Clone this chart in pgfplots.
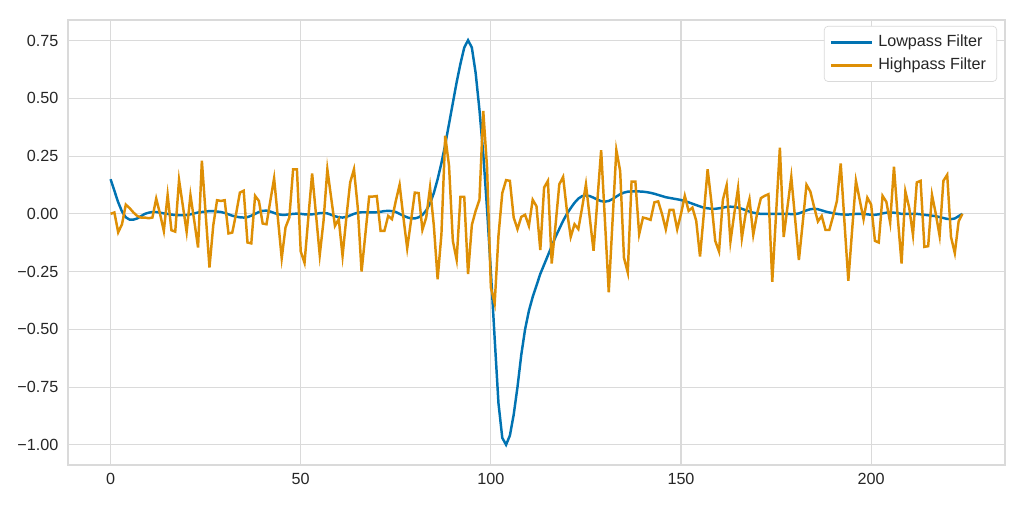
\documentclass[border=0pt]{standalone}
\usepackage{fontspec}
\setmainfont{Liberation Sans}
\usepackage{pgfplots}
\usepackage{pgfplotstable}
\pgfplotsset{compat=1.18}

\definecolor{lowc}{HTML}{0173B2}
\definecolor{highc}{HTML}{DE8F05}
\definecolor{gridc}{HTML}{DADADA}
\definecolor{textc}{HTML}{262626}

% x, lowpass, highpass
\pgfplotstableread{
x lp hp
0 0.15 0.0
1 0.10 0.006
2 0.05 -0.08
3 0.01 -0.045
4 -0.015 0.04
5 -0.025 0.025
6 -0.025 0.006
7 -0.02 -0.009
8 -0.01 -0.016
9 0.0 -0.016
10 0.005 -0.019
11 0.008 -0.016
12 0.008 0.066
13 0.005 0.0
14 0.002 -0.074
15 0.0 0.082
16 -0.003 -0.071
17 -0.005 -0.077
18 -0.006 0.147
19 -0.006 0.035
20 -0.005 -0.078
21 -0.002 0.081
22 0.002 -0.03
23 0.006 -0.146
24 0.008 0.23
25 0.01 0.0
26 0.012 -0.232
27 0.012 -0.05
28 0.01 0.059
29 0.008 0.056
30 0.004 0.059
31 -0.002 -0.085
32 -0.008 -0.081
33 -0.012 0.0
34 -0.015 0.092
35 -0.016 0.1
36 -0.014 -0.124
37 -0.008 -0.128
38 0.0 0.078
39 0.008 0.056
40 0.013 -0.042
41 0.014 -0.045
42 0.01 0.056
43 0.004 0.154
44 -0.002 -0.02
45 -0.004 -0.192
46 -0.004 -0.059
47 -0.002 -0.016
48 0.0 0.193
49 0.001 0.193
50 0.0 -0.163
51 -0.002 -0.212
52 -0.003 -0.016
53 -0.002 0.175
54 0.0 0.0
55 0.003 -0.178
56 0.004 -0.03
57 0.002 0.193
58 -0.004 0.07
59 -0.01 -0.052
60 -0.015 -0.023
61 -0.016 -0.182
62 -0.013 -0.016
63 -0.007 0.136
64 0.0 0.193
65 0.005 0.027
66 0.007 -0.25
67 0.007 -0.088
68 0.006 0.075
69 0.006 0.075
70 0.007 0.077
71 0.009 -0.074
72 0.012 -0.074
73 0.013 -0.009
74 0.012 -0.023
75 0.008 0.056
76 0.0 0.126
77 -0.008 -0.016
78 -0.015 -0.149
79 -0.02 -0.03
80 -0.02 0.092
81 -0.015 0.09
82 -0.005 -0.069
83 0.015 -0.016
84 0.045 0.114
85 0.09 -0.05
86 0.15 -0.283
87 0.22 -0.088
88 0.30 0.338
89 0.39 0.208
90 0.48 -0.117
91 0.57 -0.199
92 0.65 0.074
93 0.72 0.074
94 0.752 -0.261
95 0.72 -0.048
96 0.61 0.013
97 0.45 0.061
98 0.26 0.446
99 0.02 0.2
100 -0.25 -0.319
101 -0.54 -0.388
102 -0.82 -0.095
103 -0.97 0.09
104 -1.0 0.146
105 -0.96 0.143
106 -0.87 -0.016
107 -0.75 -0.066
108 -0.61 -0.013
109 -0.50 -0.004
110 -0.42 -0.052
111 -0.36 0.061
112 -0.31 0.033
113 -0.26 -0.157
114 -0.22 0.114
115 -0.18 0.143
116 -0.14 -0.215
117 -0.10 -0.05
118 -0.065 0.128
119 -0.03 0.16
120 0.0 0.013
121 0.025 -0.1
122 0.048 -0.045
123 0.066 -0.066
124 0.077 0.027
125 0.08 0.128
126 0.077 -0.016
127 0.07 -0.16
128 0.062 0.056
129 0.055 0.276
130 0.053 -0.03
131 0.056 -0.34
132 0.064 -0.03
133 0.075 0.276
134 0.085 0.186
135 0.092 -0.19
136 0.096 -0.254
137 0.097 0.14
138 0.097 0.14
139 0.097 -0.088
140 0.096 -0.016
141 0.094 -0.02
142 0.091 -0.026
143 0.087 0.05
144 0.082 0.054
145 0.077 0.0
146 0.072 -0.067
147 0.069 0.017
148 0.066 0.017
149 0.063 -0.067
150 0.06 0.0
151 0.055 0.078
152 0.05 0.013
153 0.044 0.027
154 0.038 -0.03
155 0.032 -0.185
156 0.027 0.0
157 0.024 0.193
158 0.022 0.05
159 0.022 -0.117
160 0.024 -0.163
161 0.027 0.06
162 0.03 0.124
163 0.031 -0.12
164 0.03 0.0
165 0.027 0.111
166 0.022 -0.105
167 0.016 0.0
168 0.01 0.064
169 0.005 -0.091
170 0.002 0.0
171 0.0 0.068
172 0.0 0.078
173 0.0 0.085
174 0.0 -0.294
175 0.0 0.0
176 0.0 0.287
177 0.0 -0.1
178 0.0 0.03
179 -0.001 0.16
180 -0.001 -0.02
181 0.002 -0.2
182 0.008 -0.04
183 0.015 0.126
184 0.02 0.097
185 0.022 0.03
186 0.02 -0.033
187 0.015 -0.009
188 0.01 -0.07
189 0.006 -0.07
190 0.003 -0.01
191 0.0 0.056
192 -0.002 0.218
193 -0.003 -0.04
194 -0.003 -0.29
195 -0.002 -0.07
196 0.0 0.143
197 0.0 0.06
198 0.0 -0.023
199 -0.002 0.07
200 -0.004 0.04
201 -0.004 -0.117
202 -0.002 -0.124
203 0.002 0.078
204 0.005 0.052
205 0.006 -0.038
206 0.005 0.204
207 0.003 -0.016
208 0.0 -0.215
209 0.0 0.097
210 0.0 0.027
211 0.0 -0.091
212 0.0 0.136
213 -0.002 0.143
214 -0.004 -0.143
215 -0.006 -0.14
216 -0.008 0.082
217 -0.01 0.0
218 -0.014 -0.095
219 -0.018 0.143
220 -0.022 0.169
221 -0.023 -0.1
222 -0.02 -0.17
223 -0.01 -0.033
224 0.0 0.0
}\filterdata

\begin{document}
\begin{tikzpicture}
\begin{axis}[
    scale only axis,
    width=18.74cm, height=8.9cm,
    xmin=-11.2, xmax=235.2,
    ymin=-1.0876, ymax=0.8396,
    xtick={0,50,100,150,200},
    xticklabels={0,50,100,150,200},
    ytick={-1,-0.75,-0.5,-0.25,0,0.25,0.5,0.75},
    yticklabels={−1.00,−0.75,−0.50,−0.25,0.00,0.25,0.50,0.75},
    tick style={draw=none},
    tick label style={font=\fontsize{9.2}{11}\selectfont, text=textc},
    xticklabel style={yshift=-1pt},
    yticklabel style={xshift=-2pt},
    grid=major,
    major grid style={draw=gridc, line width=0.6pt},
    axis line style={draw=gridc, line width=0.6pt},
    legend cell align=left,
    legend style={at={(0.9915,0.9865)}, anchor=north east,
        draw=gridc, rounded corners=2pt, fill=white,
        font=\fontsize{9.2}{11}\selectfont, text=textc,
        inner xsep=3pt, inner ysep=3pt, row sep=1pt,
        nodes={inner xsep=3pt}},
    legend image code/.code={\path (0cm,0cm) -- (0.82cm,0cm);
        \draw[#1, line width=1.4pt] (0.08cm,0cm) -- (0.78cm,0cm);},
]
\addplot[lowc, line width=1.4pt] table[x=x, y=lp] {\filterdata};
\addlegendentry{Lowpass Filter}
\addplot[highc, line width=1.4pt] table[x=x, y=hp] {\filterdata};
\addlegendentry{Highpass Filter}
\end{axis}
\pgfresetboundingbox
\path[use as bounding box] (current axis.south west) ++(-1.36cm,-0.82cm) rectangle ([xshift=0.38cm, yshift=0.4cm]current axis.north east);
\end{tikzpicture}
\end{document}
